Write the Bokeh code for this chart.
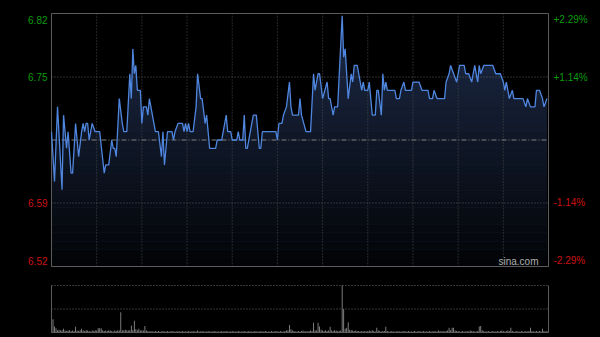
import numpy as np
from bokeh.plotting import figure
from bokeh.models import Range1d
from bokeh.core.properties import value
from bokeh.layouts import column
from bokeh.embed import file_html
from bokeh.resources import INLINE

# ---------------- data ----------------
prev_close = 6.67
pct_levels = [2.29, 1.14, -1.14, -2.29]
session_minutes = 330
grid_minutes = [30, 60, 90, 120, 150, 180, 210, 240, 270, 300]

price_minute = [
    0, 2, 4, 7, 8, 10, 11, 13, 14, 16, 17, 18, 20, 21, 22, 23, 24, 25, 27, 29,
    32, 35, 36, 38, 40, 41, 42, 43, 45, 47, 48, 50, 52, 53, 54, 55, 56, 57, 59, 60,
    61, 63, 64, 65, 67, 69, 71, 73, 74, 75, 77, 80, 81, 82, 84, 87, 88, 89, 90, 91,
    92, 94, 96, 97, 99, 100, 102, 103, 104, 105, 109, 110, 113, 116, 117, 119, 120, 123, 124, 125,
    127, 128, 129, 130, 132, 134, 136, 138, 139, 140, 149, 150, 151, 153, 154, 156, 158, 159, 160, 164,
    165, 166, 169, 172, 174, 175, 177, 178, 180, 183, 184, 185, 187, 188, 190, 193, 194, 195, 197, 199,
    200, 201, 203, 204, 206, 207, 208, 210, 211, 212, 213, 215, 216, 217, 219, 220, 221, 222, 223, 228,
    229, 231, 232, 234, 235, 239, 240, 244, 246, 250, 251, 253, 254, 256, 261, 262, 264, 265, 267, 269,
    271, 274, 275, 277, 279, 281, 283, 284, 285, 287, 293, 295, 298, 300, 301, 302, 304, 306, 307, 313,
    315, 316, 318, 321, 322, 324, 326, 327, 329,
]
price_value = [
    6.68, 6.62, 6.71, 6.61, 6.70, 6.66, 6.68, 6.63, 6.63, 6.69, 6.67, 6.65, 6.68, 6.69, 6.68, 6.69, 6.69, 6.67, 6.69, 6.68,
    6.68, 6.63, 6.64, 6.64, 6.67, 6.66, 6.66, 6.65, 6.72, 6.69, 6.68, 6.68, 6.75, 6.72, 6.78, 6.75, 6.76, 6.73, 6.73, 6.69,
    6.71, 6.71, 6.70, 6.72, 6.70, 6.68, 6.68, 6.65, 6.68, 6.64, 6.68, 6.68, 6.67, 6.68, 6.69, 6.69, 6.68, 6.69, 6.68, 6.69,
    6.68, 6.68, 6.71, 6.75, 6.72, 6.72, 6.69, 6.70, 6.68, 6.66, 6.66, 6.67, 6.67, 6.70, 6.68, 6.68, 6.67, 6.67, 6.68, 6.67,
    6.67, 6.70, 6.66, 6.66, 6.68, 6.70, 6.70, 6.66, 6.66, 6.68, 6.68, 6.67, 6.69, 6.69, 6.70, 6.71, 6.74, 6.71, 6.70, 6.70,
    6.72, 6.70, 6.68, 6.68, 6.75, 6.73, 6.75, 6.75, 6.72, 6.74, 6.72, 6.72, 6.70, 6.71, 6.71, 6.82, 6.77, 6.78, 6.72, 6.75,
    6.74, 6.76, 6.76, 6.75, 6.73, 6.74, 6.73, 6.73, 6.74, 6.72, 6.70, 6.70, 6.73, 6.73, 6.70, 6.75, 6.73, 6.74, 6.73, 6.73,
    6.72, 6.72, 6.73, 6.74, 6.73, 6.73, 6.74, 6.74, 6.73, 6.73, 6.72, 6.72, 6.73, 6.72, 6.72, 6.74, 6.75, 6.76, 6.75, 6.74,
    6.76, 6.76, 6.75, 6.75, 6.74, 6.76, 6.74, 6.76, 6.75, 6.76, 6.76, 6.75, 6.75, 6.74, 6.73, 6.74, 6.72, 6.73, 6.72, 6.72,
    6.71, 6.72, 6.71, 6.71, 6.73, 6.73, 6.72, 6.71, 6.72,
]

volume = [
    16, 28, 13, 9, 5, 6, 4, 5, 8, 4, 3, 4, 5, 3, 4, 3, 12, 4, 3, 5, 8, 4, 3, 5, 4, 3, 2, 4, 3, 5,
    4, 9, 9, 9, 5, 3, 4, 3, 5, 4, 3, 2, 4, 3, 5, 4, 43, 5, 4, 6, 5, 4, 5, 15, 6, 25, 7, 5, 8, 4,
    5, 4, 14, 4, 3, 2, 3, 2, 2, 3, 2, 3, 2, 2, 3, 2, 2, 3, 2, 2, 3, 2, 2, 2, 3, 2, 2, 3, 2, 2,
    2, 3, 2, 2, 3, 2, 2, 4, 2, 2, 3, 2, 2, 2, 3, 2, 2, 2, 3, 2, 2, 2, 2, 3, 2, 2, 3, 2, 2, 2,
    3, 2, 2, 2, 3, 2, 2, 2, 3, 2, 2, 3, 2, 2, 2, 3, 2, 2, 2, 3, 2, 2, 3, 2, 2, 2, 3, 2, 2, 3,
    2, 2, 3, 2, 2, 3, 4, 5, 16, 7, 4, 3, 2, 2, 3, 2, 3, 4, 2, 3, 2, 3, 4, 3, 21, 5, 4, 21, 13, 6,
    4, 3, 5, 3, 4, 12, 4, 3, 5, 4, 3, 3, 4, 100, 50, 8, 10, 22, 6, 5, 4, 3, 4, 3, 3, 2, 3, 2, 3, 2,
    3, 4, 3, 5, 3, 2, 10, 4, 3, 2, 3, 3, 12, 3, 2, 2, 3, 2, 2, 2, 3, 2, 2, 2, 3, 2, 2, 3, 2, 2,
    2, 3, 2, 2, 3, 2, 2, 3, 2, 2, 2, 3, 2, 2, 3, 2, 2, 4, 3, 2, 3, 2, 3, 4, 10, 5, 10, 10, 4, 3,
    3, 2, 2, 3, 2, 2, 3, 2, 4, 3, 3, 2, 2, 3, 13, 14, 5, 3, 2, 2, 3, 2, 2, 3, 2, 2, 3, 2, 3, 4,
    3, 2, 3, 4, 3, 10, 3, 2, 2, 3, 2, 2, 3, 2, 2, 3, 2, 3, 10, 3, 2, 2, 3, 2, 3, 2, 8, 3, 2, 3,
]
volume_minute = list(range(len(volume)))

# ---------------- styling ----------------
FONT = "Liberation Sans"
GREEN = "#0a9a0a"
RED = "#cc1111"
LINE = "#4f86df"
FILL = "#1d2b48"
GRID = "#4a4a4a"
FRAME = "#5c5c5c"

lo = prev_close * (1 - pct_levels[0] / 100)
hi = prev_close * (1 + pct_levels[0] / 100)
vmax = max(volume)

# page geometry (pixels)
W, H1, H2 = 600, 272, 65
left_px, right_px, top_px, bottom_px = 51, 52, 13, 6
vtop_px, vbottom_px = 13, 5
kx = (W - left_px - right_px) / session_minutes          # px per minute
ky = (H1 - top_px - bottom_px) / (hi - lo)               # px per price unit
kv = (H2 - vtop_px - vbottom_px) / vmax                  # px per volume unit
x0 = -left_px / kx
x1 = session_minutes + right_px / kx


def make_fig(height, y0, y1):
    f = figure(width=W, height=height, x_range=Range1d(x0, x1), y_range=Range1d(y0, y1),
               x_axis_location=None, y_axis_location=None,
               output_backend="svg", toolbar_location=None,
               min_border=0, min_border_left=0, min_border_right=0, min_border_top=0, min_border_bottom=0,
               background_fill_color="black", border_fill_color="black", outline_line_color=None)
    f.grid.visible = False
    return f


p = make_fig(H1, lo - bottom_px / ky, hi + top_px / ky)

# area under the price line
p.varea(x=price_minute, y1=lo, y2=price_value, fill_color=FILL, fill_alpha=1.0)

# vertical darkening to imitate the gradient fill
nb = 30
edges = np.linspace(hi, lo, nb + 1)
alphas = np.linspace(0.0, 0.9, nb)
p.quad(left=0, right=session_minutes, top=edges[:-1], bottom=edges[1:],
       fill_color="black", fill_alpha=alphas, line_color=None)

# grid lines
p.segment(x0=grid_minutes, y0=lo, x1=grid_minutes, y1=hi, line_color=GRID, line_dash="1 2", line_width=1)
pct_inner = [prev_close * (1 + pc / 100) for pc in pct_levels[1:3]]
p.segment(x0=0, y0=pct_inner, x1=session_minutes, y1=pct_inner, line_color="#5e5e5e", line_dash="1 2", line_width=1)
p.segment(x0=[0], y0=[prev_close], x1=[session_minutes], y1=[prev_close], line_color="#808080",
          line_dash="5 2 1 2", line_width=1)

# frame
p.quad(left=[0], right=[session_minutes], top=[hi], bottom=[lo], fill_color=None, line_color=FRAME, line_width=1)

# price line
p.line(price_minute, price_value, line_color=LINE, line_width=1.3)

# axis labels
lab_y, lab_l, lab_r, lab_c = [], [], [], []
for i, pc in enumerate(pct_levels):
    v = prev_close * (1 + pc / 100)
    ypos = v
    if i == 0:
        ypos = v - 6 / ky
    elif i == len(pct_levels) - 1:
        ypos = v + 6 / ky
    lab_y.append(ypos)
    lab_l.append(f"{v:.2f}")
    lab_r.append(f"{'+' if pc > 0 else '-'}{abs(pc):.2f}%")
    lab_c.append(GREEN if pc > 0 else RED)

p.text(x=[0] * 4, y=lab_y, text=lab_l, text_color=lab_c, x_offset=-4,
       text_align="right", text_baseline="middle", text_font=value(FONT), text_font_size="10px")
p.text(x=[session_minutes] * 4, y=lab_y, text=lab_r, text_color=lab_c, x_offset=5,
       text_align="left", text_baseline="middle", text_font=value(FONT), text_font_size="10px")
p.text(x=[session_minutes - 10 / kx], y=[lo + 5 / ky], text=["sina.com"], text_color="#b0b0b0",
       text_align="right", text_baseline="middle", text_font=value(FONT), text_font_size="10px")

# ---------------- volume panel ----------------
q = make_fig(H2, -vbottom_px / kv, vmax + vtop_px / kv)
q.vbar(x=volume_minute, top=volume, bottom=0, width=0.55, fill_color="#939393", line_color=None)
q.segment(x0=0, y0=[vmax, vmax / 2], x1=session_minutes, y1=[vmax, vmax / 2],
          line_color="#6a6a6a", line_dash="1 2", line_width=1)
q.segment(x0=[0, 0, session_minutes], y0=[0, 0, 0], x1=[session_minutes, 0, session_minutes],
          y1=[0, vmax, vmax], line_color=FRAME, line_width=1)

layout = column(p, q, spacing=0, styles={"background-color": "black"})
open("out.html", "w").write(file_html(layout, INLINE))
